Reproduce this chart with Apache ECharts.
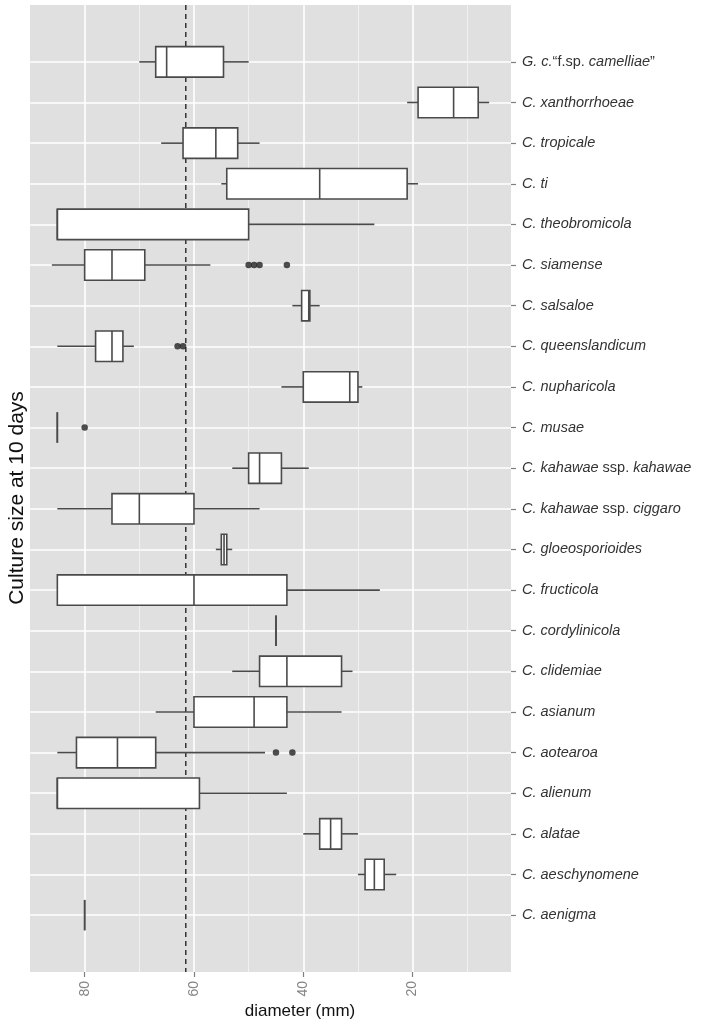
<!DOCTYPE html>
<html>
<head>
<meta charset="utf-8">
<script src="https://cdn.jsdelivr.net/npm/echarts@6/dist/echarts.min.js"></script>
<style>
html,body{margin:0;padding:0;background:#fff;}
#chart{width:709px;height:1025px;}
</style>
</head>
<body>
<div id="chart"></div>
<script>
// ---- data (categories from top to bottom) ----
const categories = [
  'G. c.“f.sp. camelliae”',
  'C. xanthorrhoeae',
  'C. tropicale',
  'C. ti',
  'C. theobromicola',
  'C. siamense',
  'C. salsaloe',
  'C. queenslandicum',
  'C. nupharicola',
  'C. musae',
  'C. kahawae ssp. kahawae',
  'C. kahawae ssp. ciggaro',
  'C. gloeosporioides',
  'C. fructicola',
  'C. cordylinicola',
  'C. clidemiae',
  'C. asianum',
  'C. aotearoa',
  'C. alienum',
  'C. alatae',
  'C. aeschynomene',
  'C. aenigma'
];
const whiskerLow = [50, 6, 48, 19, 27, 57, 37, 71, 29.2, 85, 39, 48, 53, 26, 45, 31, 33, 47, 43, 30, 23, 80];
const quartile1  = [54.6, 8, 52, 21, 50, 69, 38.8, 73, 30, 85, 44, 60, 54, 43, 45, 33, 43, 67, 59, 33, 25.2, 80];
const medians    = [65, 12.5, 56, 37, 85, 75, 39, 75, 31.5, 85, 48, 70, 54.5, 60, 45, 43, 49, 74, 85, 35, 27, 80];
const quartile3  = [67, 19, 62, 54, 85, 80, 40.3, 78, 40, 85, 50, 75, 55, 85, 45, 48, 60, 81.5, 85, 37, 28.7, 80];
const whiskerHigh= [70, 21, 66, 55, 85, 86, 42, 85, 44, 85, 53, 85, 56, 85, 45, 53, 67, 85, 85, 40, 30, 80];
// outliers: [category index, value]
const outliers = [[5, 50], [5, 49], [5, 48], [5, 43], [7, 63], [7, 62], [9, 80], [17, 45], [17, 42]];
const referenceLine = 61.5;
const xMajorTicks = [20, 40, 60, 80];
const xMinorTicks = [10, 30, 50, 70];
const xRange = [2, 90];
const yRange = [-1.4, 22.4];

const catIndex = categories.map((c, i) => i);
const boxData = categories.map((c, i) => [i, whiskerLow[i], quartile1[i], medians[i], quartile3[i], whiskerHigh[i]]);
const outlierData = outliers.map(o => [o[1], o[0]]);

function richLabel(name) {
  const re = /(ssp\.|“f\.sp\. |”)/;
  return name.split(re).filter(p => p.length).map(p =>
    /^(ssp\.|“f\.sp\. |”)$/.test(p) ? '{n|' + p + '}' : '{i|' + p + '}'
  ).join('');
}

const FONT = '"Liberation Sans", Arial, sans-serif';
const chart = echarts.init(document.getElementById('chart'), null, {renderer: 'canvas'});
const boxStroke = '#4a4a4a';

chart.setOption({
  animation: false,
  backgroundColor: '#ffffff',
  grid: {
    left: 30, right: 198, top: 5, bottom: 53,
    show: true, backgroundColor: '#e0e0e1', borderWidth: 0,
    outerBoundsMode: 'none', containLabel: false
  },
  xAxis: [{
    type: 'value', inverse: true, min: xRange[0], max: xRange[1], position: 'bottom',
    axisLine: {show: false, onZero: false},
    axisTick: {show: true, length: 5, customValues: xMajorTicks, lineStyle: {color: '#7f7f7f', width: 1.2}},
    axisLabel: {customValues: xMajorTicks, rotate: 90, margin: 9, color: '#858585', fontSize: 14, fontFamily: FONT},
    splitLine: {show: true, lineStyle: {color: '#ffffff', width: 1.6}}
  }, {
    type: 'value', inverse: true, min: xRange[0], max: xRange[1], position: 'top',
    axisLine: {show: false, onZero: false},
    axisTick: {show: false, customValues: xMinorTicks},
    axisLabel: {show: false, customValues: xMinorTicks},
    splitLine: {show: true, lineStyle: {color: '#f3f3f3', width: 0.9}}
  }],
  yAxis: {
    type: 'value', inverse: true, min: yRange[0], max: yRange[1], position: 'right',
    axisLine: {show: false, onZero: false},
    axisTick: {show: true, length: 5, customValues: catIndex, lineStyle: {color: '#7f7f7f', width: 1.2}},
    axisLabel: {
      customValues: catIndex, margin: 11, fontFamily: FONT, fontSize: 14.5, color: '#333333',
      formatter: v => richLabel(categories[Math.round(v)] || ''),
      rich: {
        i: {fontStyle: 'italic', fontFamily: FONT, fontSize: 14.5, color: '#333333'},
        n: {fontStyle: 'normal', fontFamily: FONT, fontSize: 14.5, color: '#333333'}
      }
    },
    splitLine: {show: true, lineStyle: {color: '#ffffff', width: 1.6}}
  },
  graphic: [{
    type: 'text', x: 17, y: 498, rotation: Math.PI / 2,
    style: {text: 'Culture size at 10 days', fontSize: 21, fontFamily: FONT, fill: '#111', align: 'center', verticalAlign: 'middle'}
  }, {
    type: 'text', x: 300, y: 1011,
    style: {text: 'diameter (mm)', fontSize: 17, fontFamily: FONT, fill: '#111', align: 'center', verticalAlign: 'middle'}
  }],
  series: [{
    // dashed reference line, drawn beneath the boxes
    type: 'custom', z: 2, silent: true,
    data: [[referenceLine]],
    encode: {x: 0},
    renderItem: function (params, api) {
      const v = api.value(0);
      const p1 = api.coord([v, yRange[0]]);
      const p2 = api.coord([v, yRange[1]]);
      return {
        type: 'line',
        shape: {x1: p1[0], y1: p1[1], x2: p2[0], y2: p2[1]},
        style: {stroke: '#333333', lineWidth: 1.5, lineDash: [5, 4], fill: null}
      };
    }
  }, {
    type: 'custom', z: 10,
    data: boxData,
    encode: {x: [1, 2, 3, 4, 5], y: 0},
    renderItem: function (params, api) {
      const idx = api.value(0);
      const pLo = api.coord([api.value(1), idx]);
      const pQ1 = api.coord([api.value(2), idx]);
      const pMed = api.coord([api.value(3), idx]);
      const pQ3 = api.coord([api.value(4), idx]);
      const pHi = api.coord([api.value(5), idx]);
      const halfH = api.size([0, 1])[1] * 0.375;
      const y = pLo[1];
      const ls = {stroke: boxStroke, lineWidth: 1.6, fill: null};
      const xL = Math.min(pQ1[0], pQ3[0]), xR = Math.max(pQ1[0], pQ3[0]);
      return {
        type: 'group',
        children: [
          {type: 'line', shape: {x1: pLo[0], y1: y, x2: pQ1[0], y2: y}, style: ls},
          {type: 'line', shape: {x1: pQ3[0], y1: y, x2: pHi[0], y2: y}, style: ls},
          {type: 'rect', shape: {x: xL, y: y - halfH, width: xR - xL, height: 2 * halfH}, style: {fill: '#ffffff', stroke: boxStroke, lineWidth: 1.6}},
          {type: 'line', shape: {x1: pMed[0], y1: y - halfH, x2: pMed[0], y2: y + halfH}, style: ls}
        ]
      };
    }
  }, {
    type: 'scatter', z: 11,
    data: outlierData,
    symbolSize: 6.5,
    itemStyle: {color: '#222222'}
  }]
});
</script>
</body>
</html>
